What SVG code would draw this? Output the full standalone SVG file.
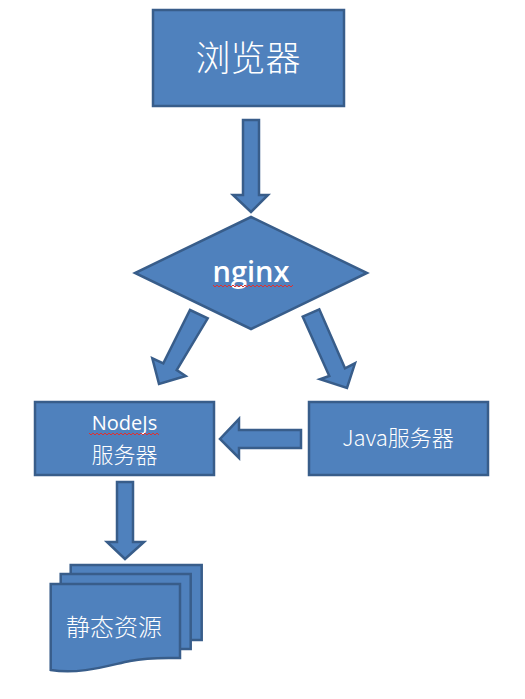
<svg xmlns="http://www.w3.org/2000/svg" width="525" height="699" viewBox="0 0 525 699">
<style>
.shape{fill:#4F81BD;stroke:#385D8A;stroke-width:2.5;stroke-linejoin:miter}
.cjk{font-family:"Noto Sans CJK SC","Noto Sans",sans-serif;fill:#FFFFFF;text-anchor:middle}
.lat{font-family:"Open Sans","Liberation Sans",sans-serif;fill:#FFFFFF;text-anchor:middle}
.squig{fill:none;stroke:#E03030;stroke-width:1}
</style>
<rect width="525" height="699" fill="#FFFFFF"/>
<g id="connectors">
<polygon class="shape" points="243,120 259,120 259,195 268,195 251,212 233,195 243,195"/>
<polygon class="shape" points="190,310 207.7,318.3 176.7,370 185.7,376 159,384 152.3,358.3 163.3,363.3"/>
<polygon class="shape" points="319.3,309.3 302.7,316.7 329.3,376 320,379.3 347,388 355,363.3 345,368.3"/>
<polygon class="shape" points="301,430 301,448 239,448 239,458 220,439 239,419 239,430"/>
<polygon class="shape" points="117,482 133,482 133,542 144,542 125,559 107,542 117,542"/>
</g>
<g id="browser">
<rect class="shape" x="153" y="10" width="191" height="96"/>
<text class="cjk" x="248" y="71" font-size="35" font-weight="300">浏览器</text>
</g>
<g id="nginx">
<polygon class="shape" points="251,217 367,273 251,329 135,273"/>
<text class="lat" x="251" y="282" font-size="29" font-weight="600">nginx</text>
<path class="squig" d="M213,285 l2,2 2,-2 2,2 2,-2 2,2 2,-2 2,2 2,-2 2,2 2,-2 2,2 2,-2 2,2 2,-2 2,2 2,-2 2,2 2,-2 2,2 2,-2 2,2 2,-2 2,2 2,-2 2,2 2,-2 2,2 2,-2 2,2 2,-2 2,2 2,-2 2,2 2,-2 2,2 2,-2 2,2 2,-2 2,2 2,-2"/>
</g>
<g id="nodejs">
<rect class="shape" x="35" y="402" width="179" height="73"/>
<text class="lat" x="124.5" y="430" font-size="20">NodeJs</text>
<path class="squig" d="M89,433 l2,2 2,-2 2,2 2,-2 2,2 2,-2 2,2 2,-2 2,2 2,-2 2,2 2,-2 2,2 2,-2 2,2 2,-2 2,2 2,-2 2,2 2,-2 2,2 2,-2 2,2 2,-2 2,2 2,-2 2,2 2,-2 2,2 2,-2 2,2 2,-2 2,2 2,-2 2,2"/>
<text class="cjk" x="124.5" y="463" font-size="22" font-weight="300">服务器</text>
</g>
<g id="java">
<rect class="shape" x="309" y="402" width="179" height="73"/>
<text class="cjk" x="398" y="446" font-size="22" font-weight="300">Java服务器</text>
</g>
<g id="static">
<rect class="shape" x="70.7" y="565" width="131" height="75"/>
<rect class="shape" x="60.7" y="574" width="130" height="75"/>
<path class="shape" d="M50.7,584 H180 V658 C165,658 150,657 130,661 C110,665 80,675 50.7,670 Z"/>
<text class="cjk" x="114" y="636" font-size="24" font-weight="300">静态资源</text>
</g>
</svg>
